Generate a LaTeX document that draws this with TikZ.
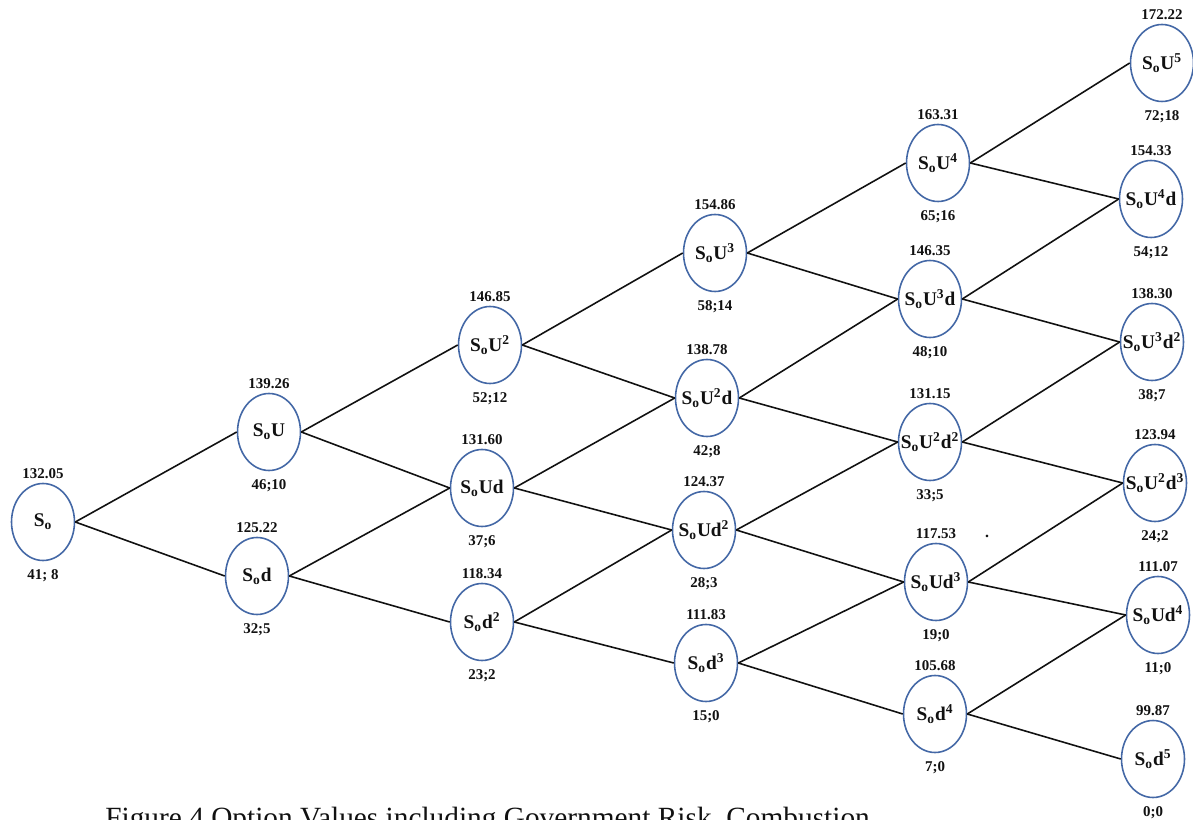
\documentclass[tikz,border=0pt]{standalone}
\usepackage{fontspec}
\setmainfont{Liberation Serif}
\usetikzlibrary{shapes.geometric}
\definecolor{rim}{HTML}{4468A6}
\definecolor{ink}{HTML}{111111}
\newcommand{\Sn}{S\textsubscript{o}}

\begin{document}
\begin{tikzpicture}[x=0.02cm,y=-0.02cm,text=ink,
  st/.style={ellipse,draw=rim,line width=0.9pt,minimum width=1.26cm,minimum height=1.54cm,
    inner sep=0pt,font=\fontsize{11}{13}\selectfont\bfseries,
    execute at begin node={\hbox to 0pt\bgroup\hss},execute at end node={\hss\egroup}},
  price/.style={font=\fontsize{8.5}{10}\selectfont\bfseries,inner sep=1pt,label distance=1pt},
  val/.style={font=\fontsize{8.5}{10}\selectfont\bfseries,inner sep=1pt,label distance=3.5pt},
  branch/.style={draw=ink,line width=0.9pt}]
  \fill[white] (0,0) rectangle (1193,820);
  \useasboundingbox (0,0) rectangle (1193,820);

  % step 0
  \node[st,label={[price]above:132.05},label={[val]below:41; 8}] (s) at (43,522) {\Sn};
  % step 1
  \node[st,label={[price]above:139.26},label={[val]below:46;10}] (su) at (269,432) {\Sn U};
  \node[st,label={[price]above:125.22},label={[val]below:32;5}] (sd) at (257,576) {\Sn d};
  % step 2
  \node[st,label={[price]above:146.85},label={[val]below:52;12}] (su2) at (490,345) {\Sn U\textsuperscript{2}};
  \node[st,label={[price]above:131.60},label={[val]below:37;6}] (sud) at (482,488) {\Sn Ud};
  \node[st,label={[price]above:118.34},label={[val]below:23;2}] (sd2) at (482,622) {\Sn d\textsuperscript{2}};
  % step 3
  \node[st,label={[price]above:154.86},label={[val]below:58;14}] (su3) at (715,253) {\Sn U\textsuperscript{3}};
  \node[st,label={[price]above:138.78},label={[val]below:42;8}] (su2d) at (707,398) {\Sn U\textsuperscript{2}d};
  \node[st,label={[price]above:124.37},label={[val]below:28;3}] (sud2) at (704,530) {\Sn Ud\textsuperscript{2}};
  \node[st,label={[price]above:111.83},label={[val]below:15;0}] (sd3) at (706,663) {\Sn d\textsuperscript{3}};
  % step 4
  \node[st,label={[price]above:163.31},label={[val]below:65;16}] (su4) at (938,163) {\Sn U\textsuperscript{4}};
  \node[st,label={[price]above:146.35},label={[val]below:48;10}] (su3d) at (930,299) {\Sn U\textsuperscript{3}d};
  \node[st,label={[price]above:131.15},label={[val]below:33;5}] (su2d2) at (930,442) {\Sn U\textsuperscript{2}d\textsuperscript{2}};
  \node[st,label={[price]above:117.53},label={[val]below:19;0}] (sud3) at (936,582) {\Sn Ud\textsuperscript{3}};
  \node[st,label={[price]above:105.68},label={[val]below:7;0}] (sd4) at (935,714) {\Sn d\textsuperscript{4}};
  % step 5
  \node[st,label={[price]above:172.22},label={[val]below:72;18}] (su5) at (1162,63) {\Sn U\textsuperscript{5}};
  \node[st,label={[price]above:154.33},label={[val]below:54;12}] (su4d) at (1151,199) {\Sn U\textsuperscript{4}d};
  \node[st,label={[price]above:138.30},label={[val]below:38;7}] (su3d2) at (1152,342) {\Sn U\textsuperscript{3}d\textsuperscript{2}};
  \node[st,label={[price]above:123.94},label={[val]below:24;2}] (su2d3) at (1155,483) {\Sn U\textsuperscript{2}d\textsuperscript{3}};
  \node[st,label={[price]above:111.07},label={[val]below:11;0}] (sud4) at (1158,615) {\Sn Ud\textsuperscript{4}};
  \node[st,label={[price]above:99.87},label={[val]below:0;0}] (sd5) at (1153,759) {\Sn d\textsuperscript{5}};

  \node[font=\bfseries\small,inner sep=0pt] (speck) at (987,536) {.};

  \foreach \a/\b in {s/su,s/sd,su/su2,su/sud,sd/sud,sd/sd2,
      su2/su3,su2/su2d,sud/su2d,sud/sud2,sd2/sud2,sd2/sd3,
      su3/su4,su3/su3d,su2d/su3d,su2d/su2d2,sud2/su2d2,sud2/sud3,sd3/sud3,sd3/sd4,
      su4/su5,su4/su4d,su3d/su4d,su3d/su3d2,su2d2/su3d2,su2d2/su2d3,sud3/su2d3,sud3/sud4,sd4/sud4,sd4/sd5}
    \draw[branch] (\a.east) -- (\b.west);

  \node[anchor=base west,inner sep=0pt,font=\fontsize{16.7}{19}\selectfont] (caption) at (105,827)
    {Figure 4 Option Values including Government Risk, Combustion};
\end{tikzpicture}
\end{document}
